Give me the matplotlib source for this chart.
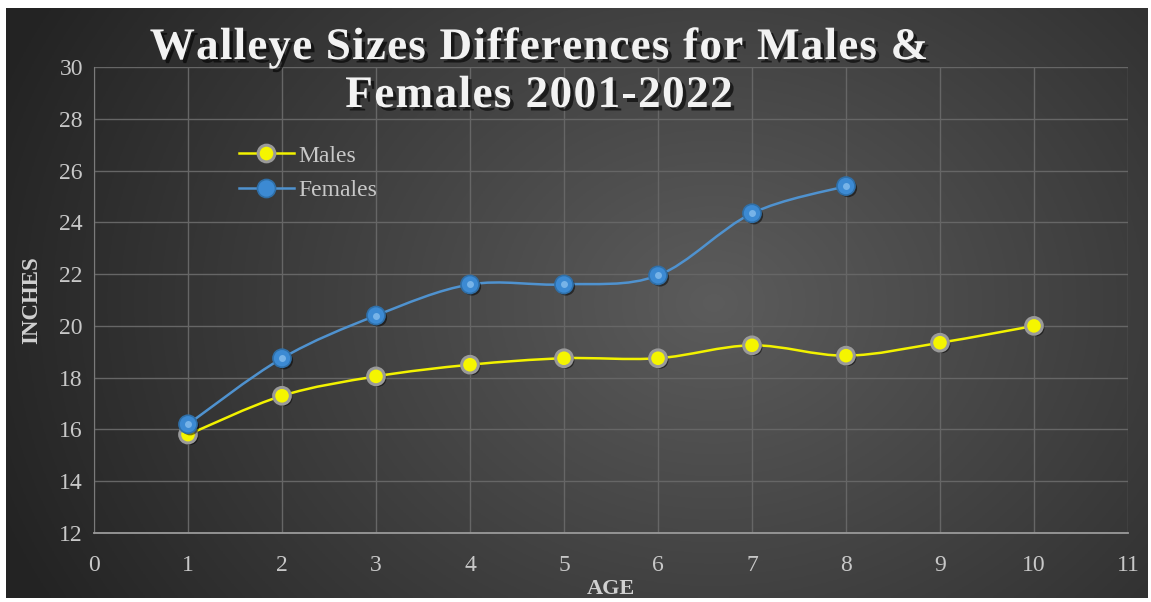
import numpy as np
import matplotlib
matplotlib.use("Agg")
import matplotlib.pyplot as plt
from matplotlib.path import Path
from matplotlib.patches import PathPatch
import matplotlib.patheffects as pe

# data
ages_m = [1, 2, 3, 4, 5, 6, 7, 8, 9, 10]
males = [15.8, 17.3, 18.05, 18.5, 18.75, 18.75, 19.25, 18.85, 19.35, 20.0]
ages_f = [1, 2, 3, 4, 5, 6, 7, 8]
females = [16.2, 18.75, 20.4, 21.6, 21.6, 21.95, 24.35, 25.4]

title_lines = ["Walleye Sizes Differences for Males &", "Females 2001-2022"]
serif = ["Liberation Serif", "DejaVu Serif"]


def smooth_path(xs, ys):
    # bezier curve through the points, like the spreadsheet "smoothed line"
    p = np.column_stack([xs, ys]).astype(float)
    n = len(p)
    verts = [p[0]]
    codes = [Path.MOVETO]
    for i in range(n - 1):
        p0 = p[i - 1] if i > 0 else p[i]
        p3 = p[i + 2] if i + 2 < n else p[i + 1]
        c1 = p[i] + (p[i + 1] - p0) / 6.0
        c2 = p[i + 1] - (p3 - p[i]) / 6.0
        verts += [c1, c2, p[i + 1]]
        codes += [Path.CURVE4] * 3
    return Path(verts, codes)


def spaced_text(fig, s, xc, y, track, **kw):
    # draw text letter by letter with extra tracking (in pixels), centred on xc (pixels)
    r = fig.canvas.get_renderer()
    px = kw["fontsize"] * fig.dpi / 72.0
    widths = []
    for ch in s:
        if ch == " ":
            widths.append(0.25 * px)
            continue
        t = fig.text(0, 0, ch, **kw)
        widths.append(t.get_window_extent(r).width)
        t.remove()
    total = sum(widths) + track * (len(s) - 1)
    x = xc - total / 2
    W, H = fig.bbox.width, fig.bbox.height
    for ch, w in zip(s, widths):
        if ch != " ":
            fig.text(x / W, 1 - y / H, ch, ha="left", va="baseline", **kw)
        x += w + track


fig = plt.figure(figsize=(11.51, 6.02), dpi=100)
fig.patch.set_facecolor("white")

# dark radial gradient background
bg = fig.add_axes([6 / 1151, 4 / 602, 1142 / 1151, 590 / 602])
bg.set_axis_off()
gx, gy = np.meshgrid(np.linspace(0, 1, 400), np.linspace(0, 1, 200))
r = np.sqrt(((gx - 0.62) * 1.1) ** 2 + ((gy - 0.5) * 0.7) ** 2)
shade = np.clip(0.36 - 0.30 * r, 0.14, 0.36)
bg.imshow(np.dstack([shade, shade, shade]), aspect="auto", extent=[0, 1, 0, 1], origin="lower")

ax = fig.add_axes([94 / 1151, 1 - 533 / 602, 1034 / 1151, 466 / 602])
ax.patch.set_alpha(0)
ax.set_xlim(0, 11)
ax.set_ylim(12, 30)
ax.set_xticks(range(0, 12))
ax.set_yticks(range(12, 31, 2))
ax.grid(True, color="#666666", lw=1)
ax.set_axisbelow(True)
for s in ["top", "right"]:
    ax.spines[s].set_visible(False)
ax.spines["left"].set_color("#7a7a7a")
ax.spines["bottom"].set_color("#9a9a9a")
ax.spines["bottom"].set_linewidth(1.3)
ax.tick_params(length=0, colors="#c8c8c8", labelsize=17)
ax.tick_params(axis="x", pad=16)
ax.tick_params(axis="y", pad=8)
for lab in ax.get_xticklabels() + ax.get_yticklabels():
    lab.set_family(serif)

ax.add_patch(PathPatch(smooth_path(ages_m, males), fc="none", ec="#f2f200", lw=1.8, zorder=3))
ax.add_patch(PathPatch(smooth_path(ages_f, females), fc="none", ec="#4f92cf", lw=1.8, zorder=3))

shadow = [pe.withSimplePatchShadow(offset=(1.5, -1.5), shadow_rgbFace="black", alpha=0.5)]
ax.plot(ages_m, males, ls="none", marker="o", ms=12, mfc="#f5f500", mec="#9a9a9a", mew=2.2,
        zorder=4, path_effects=shadow)
ax.plot(ages_f, females, ls="none", marker="o", ms=13, mfc="#3c8ad3", mec="#2f6fa8", mew=1.2,
        zorder=5, path_effects=shadow)
ax.plot(ages_f, females, ls="none", marker="o", ms=5, mfc="#9fd0f7", mec="none", alpha=0.6,
        zorder=6)

# legend drawn with proxy handles
hm, = ax.plot([], [], color="#f2f200", lw=1.8, marker="o", ms=12, mfc="#f5f500", mec="#9a9a9a", mew=2.2)
hf, = ax.plot([], [], color="#4f92cf", lw=1.8, marker="o", ms=13, mfc="#3c8ad3", mec="#2f6fa8", mew=1.2)
leg = ax.legend([hm, hf], ["Males", "Females"], loc="upper left", bbox_to_anchor=(0.12, 0.878),
                frameon=False, prop={"family": serif, "size": 17}, handlelength=2.3,
                labelspacing=0.55, handletextpad=0.2)
for t in leg.get_texts():
    t.set_color("#c8c8c8")

ax.set_ylabel("INCHES", family=serif, fontsize=16.5, fontweight="bold", color="#d0d0d0", labelpad=12)
ax.set_xlabel("AGE", family=serif, fontsize=16, fontweight="bold", color="#d0d0d0", labelpad=2)

title_kw = dict(family=serif, fontsize=32.5, fontweight="bold", color="#f2f2f2",
                path_effects=[pe.withSimplePatchShadow(offset=(2.5, -2.5), shadow_rgbFace="black", alpha=0.6)])
spaced_text(fig, title_lines[0], 539, 59, 1.2, **title_kw)
spaced_text(fig, title_lines[1], 539, 107, 1.4, **title_kw)

fig.savefig("out.png", dpi=100)
